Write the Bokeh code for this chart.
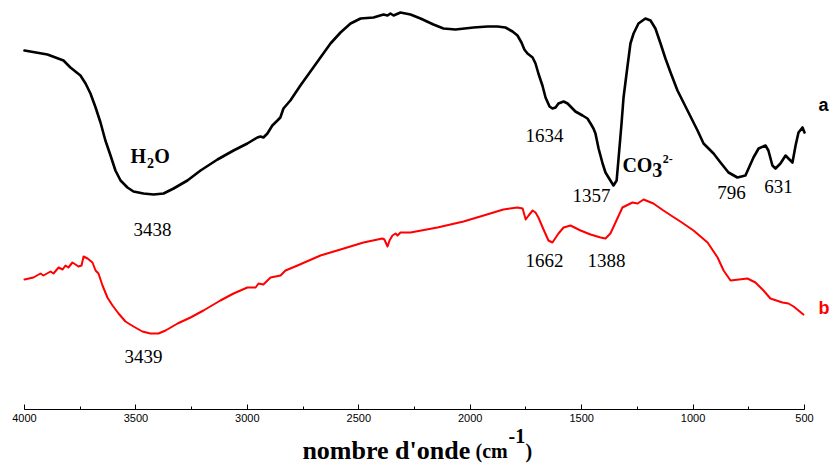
from bokeh.plotting import figure
from bokeh.models import Range1d, Label, SingleIntervalTicker, LinearAxis
from bokeh.embed import file_html
from bokeh.resources import INLINE

# ---- data: spectrum a (black), wavenumber (cm-1) and transmittance (arb. units) ----
wn_a = [4000, 3897, 3825, 3794, 3749, 3726, 3704, 3681, 3659, 3637, 3614, 3592, 3569, 3538,
        3511, 3466, 3421, 3376, 3331, 3269, 3210, 3134, 3062, 3000, 2955, 2941, 2928, 2910,
        2888, 2865, 2852, 2838, 2807, 2762, 2717, 2672, 2627, 2582, 2537, 2492, 2434, 2389,
        2371, 2358, 2344, 2313, 2268, 2223, 2165, 2120, 2066, 1985, 1922, 1878, 1842, 1810,
        1788, 1770, 1757, 1743, 1720, 1707, 1694, 1676, 1662, 1644, 1631, 1617, 1604, 1581,
        1563, 1550, 1528, 1496, 1474, 1460, 1447, 1438, 1424, 1406, 1393, 1371, 1357, 1343,
        1334, 1321, 1312, 1295, 1281, 1267, 1245, 1214, 1191, 1169, 1146, 1124, 1101, 1070,
        1025, 980, 953, 908, 877, 841, 801, 765, 729, 706, 675, 662, 644, 630, 608, 585,
        572, 554, 540, 527, 509, 500]
t_a = [359, 355, 349, 342, 334, 326, 316, 302, 287, 269, 254, 239, 229, 222,
       218, 216, 215, 216, 221, 229, 239, 250, 259, 266, 272, 273, 272, 276,
       284, 289, 292, 301, 309, 324, 338, 352, 366, 377, 386, 391, 392, 395,
       394, 396, 394, 397, 395, 391, 385, 381, 380, 382, 383, 383, 382, 378,
       374, 367, 360, 356, 352, 346, 336, 324, 312, 303, 301, 302, 306, 308,
       306, 303, 298, 294, 291, 286, 281, 276, 261, 246, 237, 229, 224, 229,
       252, 286, 312, 342, 366, 376, 386, 391, 389, 381, 366, 351, 337, 319,
       299, 279, 266, 256, 247, 237, 232, 234, 252, 261, 264, 259, 244, 241, 246, 254,
       251, 247, 264, 277, 282, 277]

# ---- data: spectrum b (red) ----
wn_b = [4000, 3960, 3928, 3915, 3883, 3870, 3847, 3829, 3816, 3803, 3785, 3771, 3758, 3744,
        3735, 3717, 3695, 3681, 3668, 3650, 3628, 3605, 3578, 3547, 3511, 3471, 3435, 3399,
        3367, 3313, 3255, 3197, 3121, 3062, 3000, 2963, 2950, 2928, 2896, 2851, 2829, 2775,
        2672, 2582, 2479, 2394, 2385, 2371, 2362, 2349, 2335, 2326, 2313, 2268, 2147, 2030,
        1940, 1851, 1788, 1765, 1751, 1738, 1720, 1707, 1694, 1671, 1649, 1631, 1604, 1581,
        1550, 1505, 1460, 1415, 1393, 1371, 1348, 1317, 1272, 1249, 1222, 1178, 1133, 1092,
        1057, 998, 935, 890, 863, 832, 756, 720, 684, 653, 599, 572, 549, 505]
t_b = [130, 132, 136, 134, 138, 136, 142, 140, 144, 142, 147, 145, 143, 144,
       153, 151, 147, 139, 136, 124, 112, 104, 96, 88, 83, 78, 76, 76,
       79, 86, 92, 99, 109, 116, 122, 122, 126, 125, 132, 134, 139, 144,
       154, 160, 167, 171, 170, 163, 169, 174, 176, 174, 177, 177, 182, 188,
       194, 200, 202, 201, 190, 194, 199, 197, 192, 180, 169, 167, 176, 182,
       184, 179, 175, 172, 171, 176, 187, 202, 207, 206, 210, 206, 199, 193,
       188, 179, 167, 152, 139, 129, 131, 127, 119, 111, 107, 106, 103, 95]

x_ticks_interval = 500

W, H = 830, 465
axis_px = 409            # pixel row of the x axis
k = 3500 / 780.0          # wavenumber per pixel

p = figure(width=W, height=H, output_backend="svg", toolbar_location=None,
           x_range=Range1d(4000 + 24 * k, 500 - 26 * k),
           y_range=Range1d(axis_px - H, axis_px),
           x_axis_location=None, y_axis_location=None, min_border=0,
           min_border_bottom=0, min_border_left=0, min_border_right=0, min_border_top=0)
p.outline_line_color = None
p.background_fill_color = "white"
p.border_fill_color = "white"
p.xgrid.visible = False
p.ygrid.visible = False

ax = LinearAxis(fixed_location=0)
ax.ticker = SingleIntervalTicker(interval=x_ticks_interval, num_minor_ticks=2)
ax.bounds = (500, 4000)
ax.axis_line_color = "black"
ax.axis_line_width = 1
ax.major_tick_in = 5
ax.major_tick_out = 0
ax.minor_tick_in = 3
ax.minor_tick_out = 0
ax.major_tick_line_color = "black"
ax.minor_tick_line_color = "black"
ax.major_label_text_font = "Liberation Sans"
ax.major_label_text_font_size = "11px"
ax.major_label_text_color = "black"
ax.major_label_standoff = 4
p.add_layout(ax, "below")

p.line(wn_a, t_a, line_color="black", line_width=2.6, line_join="round", line_cap="round")
p.line(wn_b, t_b, line_color="#ff0000", line_width=2.0, line_join="round", line_cap="round")

DY = 8  # baseline correction

def lab(text, x, y, size, bold=False, align="center", color="black", font="Liberation Serif"):
    p.add_layout(Label(x=x, y=y + DY, text=text, text_font=font, text_font_size=f"{size}px",
                       text_font_style="bold" if bold else "normal", text_align=align,
                       text_baseline="alphabetic", text_color=color))

# peak labels
lab("3438", 3426, 172, 19)
lab("3439", 3466, 45, 19)
lab("1634", 1667, 266, 19)
lab("1357", 1456, 206, 19)
lab("796", 828, 209, 19)
lab("631", 617, 215, 19)
lab("1662", 1667, 141, 19)
lab("1388", 1388, 141, 19)

# H2O
lab("H", 3524, 246, 20, bold=True, align="left")
lab("2", 3450, 239, 14, bold=True, align="left")
lab("O", 3418, 246, 20, bold=True, align="left")

# CO3 2-
lab("CO", 1317, 237, 20, bold=True, align="left")
lab("3", 1183, 232, 20, bold=True, align="left")
lab("2-", 1136, 243, 12, bold=True, align="left")

# series names
lab("a", 437, 297, 18, bold=True, align="left", font="Liberation Sans")
lab("b", 437, 94, 18, bold=True, align="left", color="#ff0000", font="Liberation Sans")

# axis title
lab("nombre d'onde", 2753, -49, 26, bold=True, align="left")
lab("(cm", 1976, -49, 20, bold=True, align="left")
lab("-1", 1828, -34, 20, bold=True, align="left")
lab(")", 1752, -49, 20, bold=True, align="left")

open("out.html", "w").write(file_html(p, INLINE))
